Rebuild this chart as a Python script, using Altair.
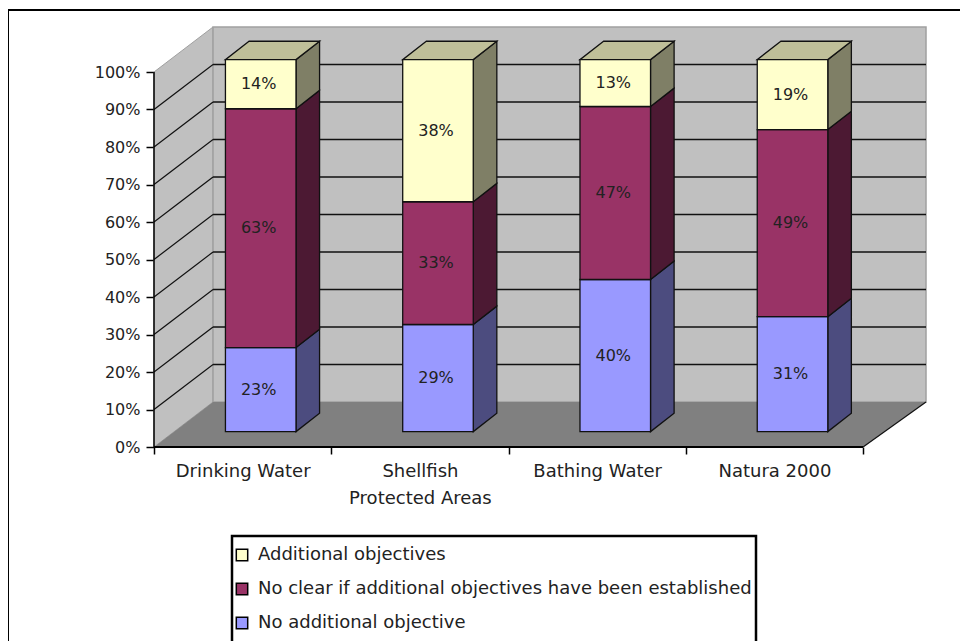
import altair as alt
import pandas as pd

# ---- values ----
categories = ["Drinking Water", "Shellfish", "Bathing Water", "Natura 2000"]
# printed labels
no_additional = [23, 29, 40, 31]
no_clear = [63, 33, 47, 49]
additional = [14, 38, 13, 19]
# segment heights as drawn (percent of the stack)
no_additional_h = [22.6, 28.8, 40.9, 30.9]
no_clear_h = [64.2, 33.0, 46.5, 50.3]
additional_h = [13.2, 38.2, 12.6, 18.8]
series_names = ["Additional objectives",
                "No clear if additional objectives have been established",
                "No additional objective"]
front_colors = ["#FFFFCC", "#993366", "#9999FF"]
side_colors = ["#7F7F66", "#4C1933", "#4C4C7F"]
top_color = "#BFBF99"
y_ticks = [0, 10, 20, 30, 40, 50, 60, 70, 80, 90, 100]

# ---- 3-D projection, in axis units ----
WALL_DX, WALL_DY = 0.333, 12.0
XMAX, YMAX = 4.355, 112.0
BAR_X0, BAR_W = 0.403, 0.398
BAR_DX, BAR_DY = 0.133, 4.9
BAR_BASE, BAR_SCALE = 4.1, 0.992

FONT = "DejaVu Sans"
xs = alt.Scale(domain=[0, XMAX], nice=False, zero=False)
ys = alt.Scale(domain=[0, YMAX], nice=False, zero=False)


def X(f="x", axis=None):
    return alt.X(f, type="quantitative", scale=xs, axis=axis, title=None)


def Y(f="y", axis=None):
    return alt.Y(f, type="quantitative", scale=ys, axis=axis, title=None)


X2 = alt.X2("x2")
Y2 = alt.Y2("y2")

# ---- tables derived from the arrays ----
front, sides, tops, labels = [], [], [], []
for i, cat in enumerate(categories):
    stack = [(no_additional_h[i], no_additional[i], 2),
             (no_clear_h[i], no_clear[i], 1),
             (additional_h[i], additional[i], 0)]
    left = i + BAR_X0
    right = left + BAR_W
    cum = 0
    for h, v, s in stack:
        lo = BAR_BASE + BAR_SCALE * cum
        cum += h
        hi = BAR_BASE + BAR_SCALE * cum
        front.append(dict(x=left, x2=right, y=lo, y2=hi, series=series_names[s]))
        key = f"{i}-{s}"
        sides.append(dict(k=key, x=right, y=lo, y2=hi, c=side_colors[s]))
        sides.append(dict(k=key, x=right + BAR_DX, y=lo + BAR_DY, y2=hi + BAR_DY, c=side_colors[s]))
        labels.append(dict(x=(left + right) / 2, y=(lo + hi) / 2, t=f"{v}%"))
    tops.append(dict(k=i, y=hi, x=left, x2=right))
    tops.append(dict(k=i, y=hi + BAR_DY, x=left + BAR_DX, x2=right + BAR_DX))

left_wall = pd.DataFrame([dict(x=0, y=0, y2=100), dict(x=WALL_DX, y=WALL_DY, y2=YMAX)])
floor = pd.DataFrame([dict(y=0, x=0, x2=4), dict(y=WALL_DY, x=WALL_DX, x2=XMAX)])
back_wall = pd.DataFrame([dict(x=WALL_DX, x2=XMAX, y=WALL_DY, y2=YMAX)])
grid_back = pd.DataFrame([dict(x=WALL_DX, x2=XMAX, y=WALL_DY + v) for v in y_ticks[1:-1]])
grid_left = pd.DataFrame([dict(k=v, x=a, y=b + v) for v in y_ticks[1:-1]
                          for a, b in ((0, 0), (WALL_DX, WALL_DY))])
one_row = pd.DataFrame([dict(k=0)])

layers = []

# walls and floor; this layer carries the tick axes
layers.append(alt.Chart(left_wall).mark_area(color="#C0C0C0", stroke="#A0A0A0", strokeWidth=1).encode(
    x=X(axis=alt.Axis(values=[0, 1, 2, 3, 4], labels=False, domain=False, grid=False, orient="bottom",
                      tickSize=7, tickWidth=1.5, tickColor="black")),
    y=Y(axis=alt.Axis(values=y_ticks, domain=False, grid=False, tickSize=8, tickWidth=1.5, tickColor="black",
                      labelExpr="datum.value + '%'", labelFont=FONT, labelFontSize=16, labelColor="#222222",
                      labelPadding=6)),
    y2=Y2))
layers.append(alt.Chart(back_wall).mark_rect(color="#C0C0C0", stroke="#A0A0A0", strokeWidth=1.5).encode(
    x=X(), x2=X2, y=Y(), y2=Y2))
layers.append(alt.Chart(floor).mark_area(orient="horizontal", color="#808080").encode(
    y=Y(), x=X(), x2=X2))
layers.append(alt.Chart(grid_back).mark_rule(color="#111111", strokeWidth=1.5).encode(
    x=X(), x2=X2, y=Y()))
layers.append(alt.Chart(grid_left).mark_line(color="#111111", strokeWidth=1.2).encode(
    x=X(), y=Y(), detail="k:N"))

# category labels on their own axis
layers.append(alt.Chart(pd.DataFrame([dict(x=0.5, y=0, y2=0)])).mark_rule(opacity=0).encode(
    x=X(axis=alt.Axis(values=[0.5, 1.5, 2.5, 3.5], domain=False, grid=False, ticks=False, orient="bottom",
                      labelExpr="datum.value == 0.5 ? 'Drinking Water' : datum.value == 1.5 ? "
                                "['Shellfish', 'Protected Areas'] : datum.value == 2.5 ? "
                                "'Bathing Water' : 'Natura 2000'",
                      labelFont=FONT, labelFontSize=18, labelColor="#222222", labelPadding=15,
                      labelLineHeight=27, labelOverlap=False)),
    y=Y()))

# front axis lines
layers.append(alt.Chart(pd.DataFrame([dict(x=0, x2=4, y=0)])).mark_rule(color="black", strokeWidth=2).encode(
    x=X(), x2=X2, y=Y()))
layers.append(alt.Chart(pd.DataFrame([dict(x=0, y=0, y2=100)])).mark_rule(color="black", strokeWidth=1.5).encode(
    x=X(), y=Y(), y2=Y2))
layers.append(alt.Chart(pd.DataFrame([dict(k=0, x=4, y=0), dict(k=0, x=XMAX, y=WALL_DY)])).mark_line(
    color="#111111", strokeWidth=1.2).encode(x=X(), y=Y()))

# legend frame and outer frame (pixel positions relative to the plot area)
layers.append(alt.Chart(one_row).mark_rect(fill="white", stroke="black", strokeWidth=2.5).encode(
    x=alt.value(78), x2=alt.value(602), y=alt.value(509), y2=alt.value(620)))
layers.append(alt.Chart(one_row).mark_rule(color="black", strokeWidth=2).encode(
    x=alt.value(-146), x2=alt.value(806), y=alt.value(-17)))
layers.append(alt.Chart(one_row).mark_rule(color="black", strokeWidth=2).encode(
    x=alt.value(-146), y=alt.value(-17), y2=alt.value(620)))

# bars
layers.append(alt.Chart(pd.DataFrame(sides)).mark_area(stroke="#111111", strokeWidth=1.3).encode(
    x=X(), y=Y(), y2=Y2, fill=alt.Fill("c:N", scale=None), detail="k:N"))
layers.append(alt.Chart(pd.DataFrame(tops)).mark_area(orient="horizontal", color=top_color, stroke="#111111",
                                                      strokeWidth=1.3).encode(
    y=Y(), x=X(), x2=X2, detail="k:N"))
layers.append(alt.Chart(pd.DataFrame(front)).mark_rect(stroke="#111111", strokeWidth=1.3).encode(
    x=X(), x2=X2, y=Y(), y2=Y2,
    color=alt.Color("series:N", scale=alt.Scale(domain=series_names, range=front_colors),
                    legend=alt.Legend(orient="none", legendX=79, legendY=519, title=None,
                                      symbolType="square", symbolSize=130, symbolStrokeColor="black",
                                      symbolStrokeWidth=1.5, labelFont=FONT, labelFontSize=18,
                                      labelColor="#222222", rowPadding=16, labelOffset=7,
                                      labelLimit=600, padding=0))))
layers.append(alt.Chart(pd.DataFrame(labels)).mark_text(font=FONT, fontSize=16, color="#222222", dx=-2).encode(
    x=X(), y=Y(), text="t:N"))

chart = alt.layer(*layers).resolve_axis(x="independent", y="independent").properties(
    width=772, height=420,
    autosize=alt.AutoSizeParams(type="none"),
    padding={"left": 146, "top": 19, "right": 34, "bottom": 194},
    background="white",
).configure_view(strokeWidth=0)

chart.save("out.html", embed_options={"renderer": "svg", "actions": False})
